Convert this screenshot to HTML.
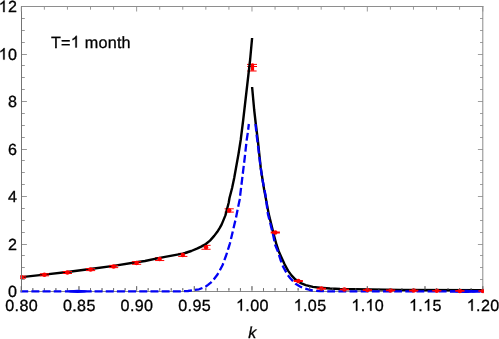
<!DOCTYPE html><html><head><meta charset="utf-8"><style>html,body{margin:0;padding:0;background:#fff}svg{display:block;will-change:transform;transform:translateZ(0)}text{font-family:"Liberation Sans",sans-serif;text-rendering:geometricPrecision;fill:#000;stroke:#000;stroke-width:0.3px}.h{fill:none;stroke:none}</style></head><body>
<svg width="499" height="339" viewBox="0 0 499 339">
<defs><clipPath id="cp"><rect x="20.3" y="0" width="463.6" height="294"/></clipPath></defs>
<rect width="499" height="339" fill="#fff"/>
<path d="M21.5,291.5 H483.0" stroke="#6a6a6a" stroke-width="0.8" fill="none"/>
<path d="M21.30,291.50 v-5.30 M32.83,291.50 v-3.30 M44.37,291.50 v-3.30 M55.90,291.50 v-3.30 M67.44,291.50 v-3.30 M78.97,291.50 v-5.30 M90.50,291.50 v-3.30 M102.04,291.50 v-3.30 M113.57,291.50 v-3.30 M125.11,291.50 v-3.30 M136.64,291.50 v-5.30 M148.17,291.50 v-3.30 M159.71,291.50 v-3.30 M171.24,291.50 v-3.30 M182.78,291.50 v-3.30 M194.31,291.50 v-5.30 M205.84,291.50 v-3.30 M217.38,291.50 v-3.30 M228.91,291.50 v-3.30 M240.45,291.50 v-3.30 M251.98,291.50 v-5.30 M263.51,291.50 v-3.30 M275.05,291.50 v-3.30 M286.58,291.50 v-3.30 M298.12,291.50 v-3.30 M309.65,291.50 v-5.30 M321.18,291.50 v-3.30 M332.72,291.50 v-3.30 M344.25,291.50 v-3.30 M355.79,291.50 v-3.30 M367.32,291.50 v-5.30 M378.85,291.50 v-3.30 M390.39,291.50 v-3.30 M401.92,291.50 v-3.30 M413.46,291.50 v-3.30 M424.99,291.50 v-5.30 M436.52,291.50 v-3.30 M448.06,291.50 v-3.30 M459.59,291.50 v-3.30 M471.13,291.50 v-3.30 M482.81,291.50 v-5.30" fill="none" stroke="#6a6a6a" stroke-width="0.8"/>
<path d="M482.8,6.5 V291.5" stroke="#8a8a8a" fill="none"/>
<g clip-path="url(#cp)">
<path d="M159.65,257.65 V260.55 M155.05,257.65 h9.2 M155.05,260.55 h9.2" stroke="#f00" stroke-width="1" fill="none"/>
<path d="M182.80,253.40 V256.40 M178.20,253.40 h9.2 M178.20,256.40 h9.2" stroke="#f00" stroke-width="1" fill="none"/>
<path d="M206.00,245.35 V249.25 M201.40,245.35 h9.2 M201.40,249.25 h9.2" stroke="#f00" stroke-width="1" fill="none"/>
<path d="M229.20,208.80 V212.10 M224.60,208.80 h9.2 M224.60,212.10 h9.2" stroke="#f00" stroke-width="1" fill="none"/>
<path d="M247,64.4 H257 M247.2,66.5 H257 M247.2,71 H256.6" stroke="#f00" stroke-width="1" fill="none"/><path d="M250.9,64 Q252.5,62.4 254.1,64 V70.8 H250.9 Z" fill="#f00"/>
<path d="M21.50,277.10 L44.30,274.60 L67.40,272.00 L90.30,269.00 L113.60,265.90 L136.20,262.30 L145.00,261.00 L159.60,257.90 L182.70,253.60 L185.00,253.00 L191.25,251.00 L197.50,248.40 L201.70,246.35 L205.80,243.95 L210.00,240.60 L214.20,235.90 L217.30,231.80 L219.90,227.60 L221.70,224.40 L225.40,215.40 L228.70,202.80 L229.50,198.00 L232.10,188.00 L234.20,178.00 L238.50,154.00 L240.70,140.00 L243.20,120.00 L250.10,60.00 L252.10,38.00" fill="none" stroke="#000" stroke-width="2.4" stroke-linejoin="round"/>
<path d="M252.10,87.00 L254.20,110.00 L255.80,124.00 L257.80,140.00 L260.70,167.50 L262.60,180.00 L264.20,190.00 L265.20,195.00 L268.70,213.90 L273.70,234.20 L276.60,245.00 L278.70,251.20 L281.70,258.00 L284.60,264.30 L288.00,270.60 L291.70,275.60 L295.50,279.60 L300.20,282.80 L305.70,285.05 L312.90,286.85 L320.00,287.75 L330.00,288.50 L340.00,289.00 L370.00,289.40 L400.00,289.90 L483.00,290.30" fill="none" stroke="#000" stroke-width="2.4" stroke-linejoin="round"/>
<path d="M20.20,291.30 L61.30,291.30" stroke="#0202f4" stroke-width="2.3" fill="none" stroke-linejoin="round" stroke-dasharray="8.0 3.18"/>
<path d="M64.90,291.30 L91.70,291.30" stroke="#0202f4" stroke-width="2.3" fill="none" stroke-linejoin="round"/>
<path d="M450,291.4 H483.6" stroke="#0202f4" stroke-width="2.3" fill="none" stroke-linejoin="round"/>
<ellipse cx="77.5" cy="291.3" rx="10" ry="1.65" fill="#0202f4"/><ellipse cx="466" cy="291.4" rx="12" ry="1.6" fill="#0202f4"/>
<path d="M94.55,291.30 L181.00,291.30 L188.00,291.00 L193.20,290.30" stroke="#0202f4" stroke-width="2.3" fill="none" stroke-linejoin="round" stroke-dasharray="8.0 3.18"/>
<path d="M194.90,289.90 L199.00,289.30 L202.60,287.90 L205.80,286.50 L208.00,284.90 L211.10,282.40 L213.10,280.30 L217.50,274.50 L219.10,271.80 L222.50,265.20 L223.50,262.70 L226.10,255.50 L226.90,253.10 L229.10,246.10 L229.90,243.50 L231.70,236.00 L232.30,233.40 L233.80,227.00 L235.90,218.20 L238.70,204.20 L239.60,200.00 L244.70,158.00 L246.70,140.00 L247.80,132.80 L248.85,124.00" stroke="#0202f4" stroke-width="2.3" fill="none" stroke-linejoin="round" stroke-dasharray="7.9 3.18" stroke-dashoffset="0.06"/>
<path d="M255.50,124.00 L256.60,135.00 L257.90,144.80 L260.60,167.50 L262.50,180.00 L265.50,195.00 L267.90,213.90 L273.00,234.20 L275.20,245.00 L277.80,251.20 L280.40,259.50 L283.00,266.40 L287.80,275.20 L290.50,278.50 L293.00,281.10 L295.50,283.70 L300.00,286.50 L302.20,287.60 L305.40,288.60 L310.00,290.00 L312.60,290.50 L320.00,291.10 L330.00,291.40 L483.00,291.40" stroke="#0202f4" stroke-width="2.3" fill="none" stroke-linejoin="round" stroke-dasharray="7.8 3.35" stroke-dashoffset="0.4"/>
<path d="M21.50,276.20 V278.20 M16.90,276.20 h9.2 M16.90,278.20 h9.2" stroke="#f00" stroke-width="1" fill="none"/><circle cx="21.50" cy="277.20" r="2.25" fill="#f00"/>
<path d="M44.40,273.80 V275.80 M39.80,273.80 h9.2 M39.80,275.80 h9.2" stroke="#f00" stroke-width="1" fill="none"/><circle cx="44.40" cy="274.80" r="2.25" fill="#f00"/>
<path d="M67.40,271.50 V273.50 M62.80,271.50 h9.2 M62.80,273.50 h9.2" stroke="#f00" stroke-width="1" fill="none"/><circle cx="67.40" cy="272.50" r="2.25" fill="#f00"/>
<path d="M90.60,268.60 V270.60 M86.00,268.60 h9.2 M86.00,270.60 h9.2" stroke="#f00" stroke-width="1" fill="none"/><circle cx="90.60" cy="269.60" r="2.25" fill="#f00"/>
<path d="M113.60,265.40 V267.60 M109.00,265.40 h9.2 M109.00,267.60 h9.2" stroke="#f00" stroke-width="1" fill="none"/><circle cx="113.60" cy="266.50" r="2.25" fill="#f00"/>
<path d="M136.60,261.70 V264.30 M132.00,261.70 h9.2 M132.00,264.30 h9.2" stroke="#f00" stroke-width="1" fill="none"/><circle cx="136.60" cy="263.00" r="2.25" fill="#f00"/>
<circle cx="159.65" cy="259.10" r="2.25" fill="#f00"/>
<circle cx="182.80" cy="254.90" r="2.25" fill="#f00"/>
<circle cx="206.00" cy="247.30" r="2.25" fill="#f00"/>
<circle cx="229.20" cy="210.45" r="2.25" fill="#f00"/>
<path d="M270.70,232.50 h9.2" stroke="#f00" stroke-width="2.00" fill="none"/><circle cx="275.30" cy="232.50" r="2.25" fill="#f00"/>
<path d="M293.70,281.00 h9.2" stroke="#f00" stroke-width="1.80" fill="none"/><circle cx="298.30" cy="281.00" r="2.25" fill="#f00"/>
<path d="M316.80,288.60 h9.2" stroke="#f00" stroke-width="1.60" fill="none"/><circle cx="321.40" cy="288.60" r="2.25" fill="#f00"/>
<path d="M339.80,289.50 h9.2" stroke="#f00" stroke-width="1.60" fill="none"/><circle cx="344.40" cy="289.50" r="2.25" fill="#f00"/>
<path d="M362.80,290.10 h9.2" stroke="#f00" stroke-width="1.60" fill="none"/><circle cx="367.40" cy="290.10" r="2.25" fill="#f00"/>
<path d="M386.00,290.40 h9.2" stroke="#f00" stroke-width="1.60" fill="none"/><circle cx="390.60" cy="290.40" r="2.25" fill="#f00"/>
<path d="M409.10,290.60 h9.2" stroke="#f00" stroke-width="1.60" fill="none"/><circle cx="413.70" cy="290.60" r="2.25" fill="#f00"/>
<path d="M432.20,290.80 h9.2" stroke="#f00" stroke-width="1.60" fill="none"/><circle cx="436.80" cy="290.80" r="2.25" fill="#f00"/>
<path d="M455.30,290.90 h9.2" stroke="#f00" stroke-width="1.60" fill="none"/><circle cx="459.90" cy="290.90" r="2.25" fill="#f00"/>
<path d="M478.40,291.00 h9.2" stroke="#f00" stroke-width="1.60" fill="none"/><circle cx="483.00" cy="291.00" r="2.25" fill="#f00"/>
</g>
<path d="M21.0,6.5 H483.5" stroke="#8e8e8e" fill="none"/>
<path d="M21.5,6.5 V292.0" stroke="#747474" fill="none"/>
<path d="M21.50,279.50 h3.30 M21.50,267.50 h3.30 M21.50,255.50 h3.30 M21.50,244.50 h5.40 M21.50,232.50 h3.30 M21.50,220.50 h3.30 M21.50,208.50 h3.30 M21.50,196.50 h5.40 M21.50,184.50 h3.30 M21.50,172.50 h3.30 M21.50,160.50 h3.30 M21.50,149.50 h5.40 M21.50,137.50 h3.30 M21.50,125.50 h3.30 M21.50,113.50 h3.30 M21.50,101.50 h5.40 M21.50,89.50 h3.30 M21.50,77.50 h3.30 M21.50,65.50 h3.30 M21.50,54.50 h5.40 M21.50,42.50 h3.30 M21.50,30.50 h3.30 M21.50,18.50 h3.30" fill="none" stroke="#747474" stroke-width="0.75"/>
<path d="M483.00,279.50 h-3.00 M483.00,267.50 h-3.00 M483.00,255.50 h-3.00 M483.00,244.50 h-5.10 M483.00,232.50 h-3.00 M483.00,220.50 h-3.00 M483.00,208.50 h-3.00 M483.00,196.50 h-5.10 M483.00,184.50 h-3.00 M483.00,172.50 h-3.00 M483.00,160.50 h-3.00 M483.00,149.50 h-5.10 M483.00,137.50 h-3.00 M483.00,125.50 h-3.00 M483.00,113.50 h-3.00 M483.00,101.50 h-5.10 M483.00,89.50 h-3.00 M483.00,77.50 h-3.00 M483.00,65.50 h-3.00 M483.00,54.50 h-5.10 M483.00,42.50 h-3.00 M483.00,30.50 h-3.00 M483.00,18.50 h-3.00" fill="none" stroke="#8e8e8e" stroke-width="0.85"/>
<path d="M21.30,6.50 v5.00 M44.37,6.50 v3.20 M67.44,6.50 v3.20 M90.50,6.50 v3.20 M113.57,6.50 v3.20 M136.64,6.50 v5.00 M159.71,6.50 v3.20 M182.78,6.50 v3.20 M205.84,6.50 v3.20 M228.91,6.50 v3.20 M251.98,6.50 v5.00 M275.05,6.50 v3.20 M298.12,6.50 v3.20 M321.18,6.50 v3.20 M344.25,6.50 v3.20 M367.32,6.50 v5.00 M390.39,6.50 v3.20 M413.46,6.50 v3.20 M436.52,6.50 v3.20 M459.59,6.50 v3.20 M482.81,6.50 v5.00" fill="none" stroke="#8e8e8e" stroke-width="0.9"/>
<path d="M21.30,289.90 v-3.70 M32.83,289.90 v-1.70 M44.37,289.90 v-1.70 M55.90,289.90 v-1.70 M67.44,289.90 v-1.70 M78.97,289.90 v-3.70 M90.50,289.90 v-1.70 M102.04,289.90 v-1.70 M113.57,289.90 v-1.70 M125.11,289.90 v-1.70 M136.64,289.90 v-3.70 M148.17,289.90 v-1.70 M159.71,289.90 v-1.70 M171.24,289.90 v-1.70 M182.78,289.90 v-1.70 M194.31,289.90 v-3.70 M205.84,289.90 v-1.70 M217.38,289.90 v-1.70 M228.91,289.90 v-1.70 M240.45,289.90 v-1.70 M251.98,289.90 v-3.70 M263.51,289.90 v-1.70 M275.05,289.90 v-1.70 M286.58,289.90 v-1.70 M298.12,289.90 v-1.70 M309.65,289.90 v-3.70 M321.18,289.90 v-1.70 M332.72,289.90 v-1.70 M344.25,289.90 v-1.70 M355.79,289.90 v-1.70 M367.32,289.90 v-3.70 M378.85,289.90 v-1.70 M390.39,289.90 v-1.70 M401.92,289.90 v-1.70 M413.46,289.90 v-1.70 M424.99,289.90 v-3.70 M436.52,289.90 v-1.70 M448.06,289.90 v-1.70 M459.59,289.90 v-1.70 M471.13,289.90 v-1.70 M482.81,289.90 v-3.70" fill="none" stroke="#666" stroke-width="0.8"/>
<g id="labels">
<g transform="translate(17.25,297.10) scale(1.000,1)"><text x="0" y="0" font-size="16.1" text-anchor="end" letter-spacing="0.36">0</text></g>
<g transform="translate(17.25,249.60) scale(1.000,1)"><text x="0" y="0" font-size="16.1" text-anchor="end" letter-spacing="0.36">2</text></g>
<g transform="translate(17.25,202.10) scale(1.000,1)"><text x="0" y="0" font-size="16.1" text-anchor="end" letter-spacing="0.36">4</text></g>
<g transform="translate(17.25,154.60) scale(1.000,1)"><text x="0" y="0" font-size="16.1" text-anchor="end" letter-spacing="0.36">6</text></g>
<g transform="translate(17.25,107.10) scale(1.000,1)"><text x="0" y="0" font-size="16.1" text-anchor="end" letter-spacing="0.36">8</text></g>
<g transform="translate(17.25,59.60) scale(1.000,1)"><text x="0" y="0" font-size="16.1" text-anchor="end" letter-spacing="0.36"><tspan class="h">1</tspan>0</text><g fill="#000" stroke="#000" stroke-linejoin="round"><path transform="translate(-18.62,0.00) scale(0.00786,-0.00786)" d="M763 0 L583 0 L583 1147 Q518 1085 412.5 1023 Q307 961 223 930 L223 1104 Q374 1175 487 1276 Q600 1377 647 1472 L763 1472 Z" stroke-width="38.2"/></g></g>
<g transform="translate(17.25,12.10) scale(1.000,1)"><text x="0" y="0" font-size="16.1" text-anchor="end" letter-spacing="0.36"><tspan class="h">1</tspan>2</text><g fill="#000" stroke="#000" stroke-linejoin="round"><path transform="translate(-18.62,0.00) scale(0.00786,-0.00786)" d="M763 0 L583 0 L583 1147 Q518 1085 412.5 1023 Q307 961 223 930 L223 1104 Q374 1175 487 1276 Q600 1377 647 1472 L763 1472 Z" stroke-width="38.2"/></g></g>
<g transform="translate(21.62,310.65) scale(1.000,1)"><text x="0" y="0" font-size="16.1" text-anchor="middle" letter-spacing="0.36">0.80</text></g>
<g transform="translate(79.31,310.65) scale(1.000,1)"><text x="0" y="0" font-size="16.1" text-anchor="middle" letter-spacing="0.36">0.85</text></g>
<g transform="translate(136.99,310.65) scale(1.000,1)"><text x="0" y="0" font-size="16.1" text-anchor="middle" letter-spacing="0.36">0.90</text></g>
<g transform="translate(194.68,310.65) scale(1.000,1)"><text x="0" y="0" font-size="16.1" text-anchor="middle" letter-spacing="0.36">0.95</text></g>
<g transform="translate(252.37,310.65) scale(1.000,1)"><text x="0" y="0" font-size="16.1" text-anchor="middle" letter-spacing="0.36"><tspan class="h">1</tspan>.00</text><g fill="#000" stroke="#000" stroke-linejoin="round"><path transform="translate(-16.38,0.00) scale(0.00786,-0.00786)" d="M763 0 L583 0 L583 1147 Q518 1085 412.5 1023 Q307 961 223 930 L223 1104 Q374 1175 487 1276 Q600 1377 647 1472 L763 1472 Z" stroke-width="38.2"/></g></g>
<g transform="translate(310.06,310.65) scale(1.000,1)"><text x="0" y="0" font-size="16.1" text-anchor="middle" letter-spacing="0.36"><tspan class="h">1</tspan>.05</text><g fill="#000" stroke="#000" stroke-linejoin="round"><path transform="translate(-16.38,0.00) scale(0.00786,-0.00786)" d="M763 0 L583 0 L583 1147 Q518 1085 412.5 1023 Q307 961 223 930 L223 1104 Q374 1175 487 1276 Q600 1377 647 1472 L763 1472 Z" stroke-width="38.2"/></g></g>
<g transform="translate(367.75,310.65) scale(1.000,1)"><text x="0" y="0" font-size="16.1" text-anchor="middle" letter-spacing="0.36"><tspan class="h">1</tspan>.<tspan class="h">1</tspan>0</text><g fill="#000" stroke="#000" stroke-linejoin="round"><path transform="translate(-16.39,0.00) scale(0.00786,-0.00786)" d="M763 0 L583 0 L583 1147 Q518 1085 412.5 1023 Q307 961 223 930 L223 1104 Q374 1175 487 1276 Q600 1377 647 1472 L763 1472 Z" stroke-width="38.2"/><path transform="translate(-2.23,0.00) scale(0.00786,-0.00786)" d="M763 0 L583 0 L583 1147 Q518 1085 412.5 1023 Q307 961 223 930 L223 1104 Q374 1175 487 1276 Q600 1377 647 1472 L763 1472 Z" stroke-width="38.2"/></g></g>
<g transform="translate(425.43,310.65) scale(1.000,1)"><text x="0" y="0" font-size="16.1" text-anchor="middle" letter-spacing="0.36"><tspan class="h">1</tspan>.<tspan class="h">1</tspan>5</text><g fill="#000" stroke="#000" stroke-linejoin="round"><path transform="translate(-16.39,0.00) scale(0.00786,-0.00786)" d="M763 0 L583 0 L583 1147 Q518 1085 412.5 1023 Q307 961 223 930 L223 1104 Q374 1175 487 1276 Q600 1377 647 1472 L763 1472 Z" stroke-width="38.2"/><path transform="translate(-2.23,0.00) scale(0.00786,-0.00786)" d="M763 0 L583 0 L583 1147 Q518 1085 412.5 1023 Q307 961 223 930 L223 1104 Q374 1175 487 1276 Q600 1377 647 1472 L763 1472 Z" stroke-width="38.2"/></g></g>
<g transform="translate(483.12,310.65) scale(1.000,1)"><text x="0" y="0" font-size="16.1" text-anchor="middle" letter-spacing="0.36"><tspan class="h">1</tspan>.20</text><g fill="#000" stroke="#000" stroke-linejoin="round"><path transform="translate(-16.38,0.00) scale(0.00786,-0.00786)" d="M763 0 L583 0 L583 1147 Q518 1085 412.5 1023 Q307 961 223 930 L223 1104 Q374 1175 487 1276 Q600 1377 647 1472 L763 1472 Z" stroke-width="38.2"/></g></g>
<g transform="translate(252.30,337.50) scale(1.000,1)"><text x="0" y="0" font-size="16" text-anchor="middle" font-style="italic">k</text></g>
<g transform="translate(51.00,47.50) scale(1.000,1)"><text x="0" y="0" font-size="16.2" text-anchor="start" letter-spacing="0.22">T=<tspan class="h">1</tspan> month</text><g fill="#000" stroke="#000" stroke-linejoin="round"><path transform="translate(19.78,0.00) scale(0.00791,-0.00791)" d="M763 0 L583 0 L583 1147 Q518 1085 412.5 1023 Q307 961 223 930 L223 1104 Q374 1175 487 1276 Q600 1377 647 1472 L763 1472 Z" stroke-width="37.9"/></g></g>
</g>
</svg></body></html>
